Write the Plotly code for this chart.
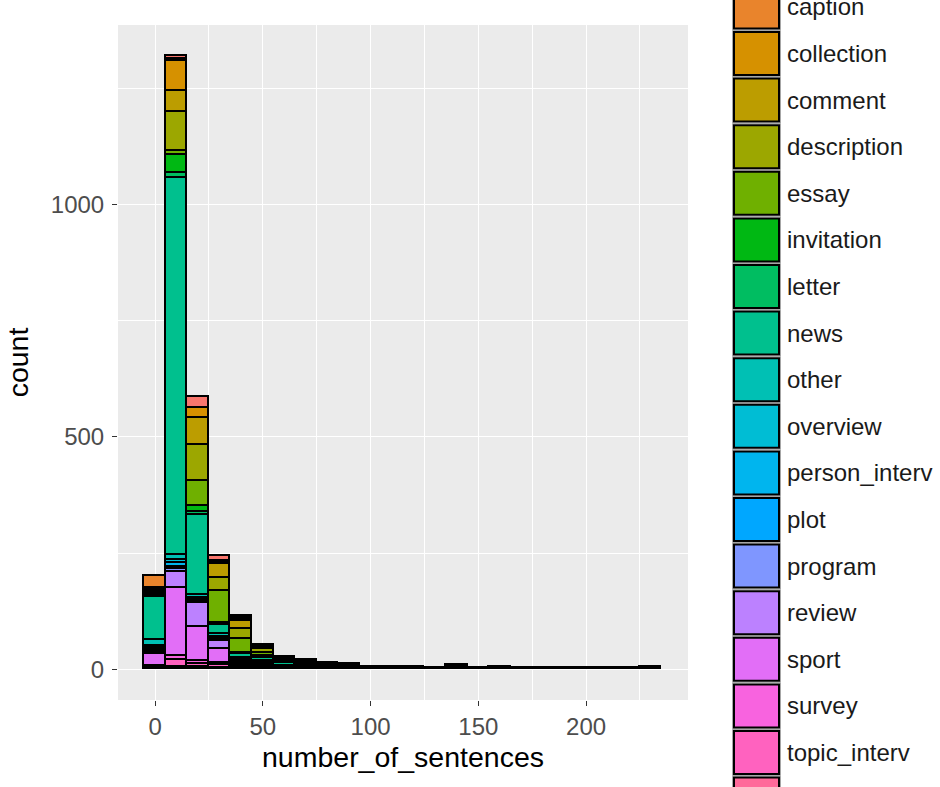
import math
import plotly.graph_objects as go

# ---------------- data ----------------
bin_centers = [0, 10, 20, 30, 40, 50, 60, 70, 80, 90, 100, 110, 120, 130, 140, 150, 160, 170, 180, 190, 200, 210, 220, 230]
bin_width = 10

genres = ["advice", "caption", "collection", "comment", "description", "essay", "invitation", "letter",
          "news", "other", "overview", "person_interv", "plot", "program", "review", "sport", "survey",
          "topic_interv", "weather"]

advice        = [0, 8, 22, 11, 4, 1, 1, 0, 0, 0, 0, 0, 0, 0, 0, 0, 0, 0, 0, 0, 0, 0, 0, 0]
caption       = [24, 3, 0, 2, 3, 2, 1, 1, 1, 0, 0, 0, 0, 0, 0, 0, 0, 0, 0, 0, 0, 0, 0, 0]
collection    = [6, 66, 23, 4, 3, 2, 1, 1, 0, 1, 0, 0, 0, 0, 0, 0, 0, 0, 0, 0, 0, 0, 0, 0]
comment       = [3, 45, 58, 30, 18, 4, 2, 2, 1, 1, 1, 0, 0, 1, 0, 0, 0, 1, 0, 0, 0, 0, 0, 0]
description   = [4, 82, 77, 28, 21, 7, 3, 2, 2, 1, 0, 1, 0, 0, 2, 0, 0, 0, 1, 0, 0, 0, 0, 0]
essay         = [3, 9, 54, 68, 30, 8, 4, 3, 2, 2, 1, 0, 1, 0, 2, 0, 1, 0, 0, 0, 1, 0, 0, 0]
invitation    = [2, 40, 13, 2, 2, 1, 0, 0, 0, 0, 0, 0, 0, 0, 0, 0, 0, 0, 0, 0, 0, 0, 0, 0]
letter        = [3, 11, 5, 2, 1, 2, 1, 1, 1, 0, 0, 0, 0, 0, 0, 0, 0, 0, 0, 0, 0, 0, 0, 0]
news          = [92, 811, 173, 21, 8, 8, 5, 4, 3, 3, 2, 2, 2, 2, 4, 1, 2, 2, 2, 2, 2, 2, 2, 3]
other         = [12, 10, 6, 5, 3, 3, 2, 2, 1, 1, 1, 0, 1, 0, 1, 1, 1, 0, 0, 1, 0, 1, 0, 1]
overview      = [4, 6, 3, 3, 2, 1, 1, 1, 0, 1, 0, 0, 0, 0, 0, 0, 0, 0, 0, 0, 0, 0, 0, 0]
person_interv = [3, 8, 4, 3, 1, 1, 0, 0, 0, 0, 0, 0, 0, 0, 0, 0, 0, 0, 0, 0, 0, 0, 0, 0]
plot          = [3, 5, 2, 1, 1, 1, 1, 0, 0, 0, 0, 0, 0, 0, 0, 0, 0, 0, 0, 0, 0, 0, 0, 0]
program       = [3, 7, 3, 2, 1, 1, 0, 1, 0, 0, 0, 0, 0, 0, 0, 0, 0, 0, 0, 0, 0, 0, 0, 0]
review        = [4, 33, 52, 18, 3, 2, 1, 0, 1, 0, 0, 1, 0, 0, 1, 0, 0, 0, 0, 0, 0, 0, 1, 0]
sport         = [26, 148, 73, 30, 4, 4, 2, 1, 0, 1, 0, 0, 0, 0, 0, 0, 0, 0, 0, 0, 0, 0, 0, 0]
survey        = [2, 8, 6, 4, 2, 1, 0, 0, 0, 0, 0, 0, 0, 0, 0, 0, 0, 0, 0, 0, 0, 0, 0, 0]
topic_interv  = [4, 14, 7, 6, 5, 2, 1, 1, 1, 0, 0, 0, 0, 0, 0, 0, 0, 0, 0, 0, 0, 0, 0, 0]
weather       = [2, 6, 4, 3, 3, 1, 0, 0, 0, 0, 0, 0, 0, 0, 0, 0, 0, 0, 0, 0, 0, 0, 0, 0]

series = [advice, caption, collection, comment, description, essay, invitation, letter, news, other,
          overview, person_interv, plot, program, review, sport, survey, topic_interv, weather]

x_ticks = [0, 50, 100, 150, 200]
y_ticks = [0, 500, 1000]


# ---------------- ggplot hue palette ----------------
def hcl_hex(h, c=100.0, l=65.0):
    Xn, Yn, Zn = 95.047, 100.0, 108.883
    hr = math.radians(h)
    u = c * math.cos(hr)
    v = c * math.sin(hr)
    Y = Yn * ((l + 16) / 116) ** 3
    den = Xn + 15 * Yn + 3 * Zn
    un, vn = 4 * Xn / den, 9 * Yn / den
    up = u / (13 * l) + un
    vp = v / (13 * l) + vn
    X = 9.0 * Y * up / (4 * vp)
    Z = -X / 3 - 5 * Y + 3 * Y / vp
    x, y, z = X / 100, Y / 100, Z / 100
    r = 3.240479 * x - 1.537150 * y - 0.498535 * z
    g = -0.969256 * x + 1.875992 * y + 0.041556 * z
    b = 0.055648 * x - 0.204043 * y + 1.057311 * z

    def gam(t):
        t = 1.055 * t ** (1 / 2.4) - 0.055 if t > 0.00304 else 12.92 * t
        return max(0, min(255, int(round(255 * t))))

    return "#%02X%02X%02X" % (gam(r), gam(g), gam(b))


n = len(genres)
colors = [hcl_hex(15 + i * 360.0 / n) for i in range(n)]

FONT = "Liberation Sans, Arial, sans-serif"

fig = go.Figure()
# ggplot stacks the first level on top -> add in reverse order
for i in reversed(range(n)):
    fig.add_trace(go.Bar(
        x=bin_centers, y=series[i], width=bin_width, name=genres[i],
        marker=dict(color=colors[i], line=dict(color="black", width=1.8)),
        showlegend=False,
    ))

# ---------------- layout geometry (pixels) ----------------
W, H = 940, 787
PL, PR, PT, PB = 118, 688, 25, 700


def px2paper_x(px):
    return (px - PL) / (PR - PL)


def px2paper_y(py):
    return (PB - py) / (PB - PT)


shapes = []
annotations = []
key_x0, key_x1 = 734, 779
key_h = 43
step = 46.6
for i, name in enumerate(genres):
    cy = 53.5 + step * (i - 2)
    shapes.append(dict(type="rect", xref="paper", yref="paper",
                       x0=px2paper_x(key_x0 - 1.5), x1=px2paper_x(key_x1 + 1.5),
                       y0=px2paper_y(cy + key_h / 2 + 1.5), y1=px2paper_y(cy - key_h / 2 - 1.5),
                       line=dict(color="#A6A6A6", width=1), fillcolor="rgba(0,0,0,0)", layer="above"))
    shapes.append(dict(type="rect", xref="paper", yref="paper",
                       x0=px2paper_x(key_x0), x1=px2paper_x(key_x1),
                       y0=px2paper_y(cy + key_h / 2), y1=px2paper_y(cy - key_h / 2),
                       line=dict(color="black", width=2), fillcolor=colors[i], layer="above"))
    annotations.append(dict(x=px2paper_x(785), y=px2paper_y(cy), xref="paper", yref="paper",
                            text=name, showarrow=False, xanchor="left", yanchor="middle",
                            font=dict(family=FONT, size=24, color="#1A1A1A")))

fig.update_layout(
    width=W, height=H,
    margin=dict(l=PL, r=W - PR, t=PT, b=H - PB, autoexpand=False),
    barmode="stack", bargap=0,
    plot_bgcolor="#EBEBEB", paper_bgcolor="white",
    font=dict(family=FONT),
    shapes=shapes, annotations=annotations,
    showlegend=False,
)

fig.update_xaxes(
    range=[-17.2, 247.3], tickvals=x_ticks, ticktext=[str(v) for v in x_ticks],
    ticks="outside", ticklen=5, tickwidth=1.1, tickcolor="#333333",
    tickfont=dict(family=FONT, size=24, color="#4D4D4D"),
    showgrid=True, gridcolor="white", gridwidth=1.3,
    minor=dict(tickvals=[25, 75, 125, 175, 225], showgrid=True, gridcolor="white", gridwidth=0.65, ticks=""),
    zeroline=False, showline=False,
    title=dict(text="number_of_sentences", font=dict(family=FONT, size=28.5, color="black"), standoff=8),
)
fig.update_yaxes(
    range=[-66, 1386], tickvals=y_ticks, ticktext=[str(v) for v in y_ticks],
    ticks="outside", ticklen=5, tickwidth=1.1, tickcolor="#333333",
    tickfont=dict(family=FONT, size=24, color="#4D4D4D"),
    ticklabelstandoff=3,
    showgrid=True, gridcolor="white", gridwidth=1.3,
    minor=dict(tickvals=[250, 750, 1250], showgrid=True, gridcolor="white", gridwidth=0.65, ticks=""),
    zeroline=False, showline=False,
    title=dict(text="count", font=dict(family=FONT, size=28.5, color="black"), standoff=13),
)

fig.write_html("out.html")
